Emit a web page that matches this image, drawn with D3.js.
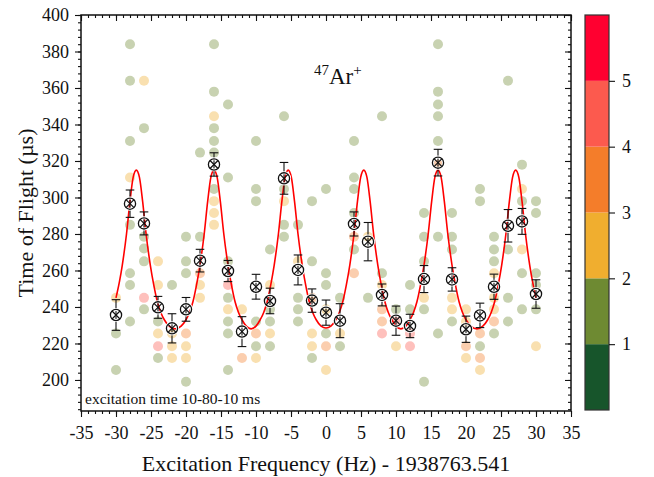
<!DOCTYPE html>
<html><head><meta charset="utf-8">
<script src="https://cdn.jsdelivr.net/npm/d3@7"></script>
<style>
body{margin:0;background:#fff}
svg{display:block}
text{font-family:"Liberation Serif","Times New Roman",serif;fill:#111}
</style>
</head><body>
<svg id="chart" width="654" height="477"></svg>
<script>
// ---------- data ----------
const xTicks = [-35,-30,-25,-20,-15,-10,-5,0,5,10,15,20,25,30,35];
const yTicks = [200,220,240,260,280,300,320,340,360,380,400];
const colorTicks = [1,2,3,4,5];
const colorBands = ["#17552b","#6e8a32","#f0ae2f","#f47d2a","#fc5a4e","#ff0030"];

// scatter: [frequency offset (Hz), time of flight (us), counts]
const scatterPoints = [
 [-30,245,2],[-30,225.5,1],[-30,205.5,1],
 [-28,384,1],[-28,364,1],[-28,331,1],[-28,311,2],[-28,285,1],[-28,258.5,1],[-28,252,1],[-28,232,1],
 [-26,364,2],[-26,338,1],[-26,278.5,1],[-26,272,1],[-26,265,1],[-26,245,4],[-26,238.7,1],
 [-24,265,2],[-24,252,2],[-24,232,1],[-24,225.5,2],[-24,218.5,4],[-24,212,1],
 [-22,252,1],[-22,225.5,2],[-22,218.5,2],[-22,212,2],
 [-20,278.5,1],[-20,265,1],[-20,258.5,1],[-20,225.5,3],[-20,218.5,2],[-20,212,2],[-20,199,1],
 [-18,324.6,1],[-18,278.5,1],[-18,258.5,3],[-18,252,2],[-18,245,2],
 [-16,384,1],[-16,358,1],[-16,344.5,2],[-16,338,1],[-16,331,1],[-16,324.6,1],[-16,304.7,1],[-16,298,2],[-16,291.5,2],[-16,285,2],
 [-14,351,1],[-14,311,1],[-14,265,1],[-14,252,4],[-14,245,1],[-14,238.7,2],[-14,232,1],[-14,225.5,1],[-14,205.5,1],
 [-12,238.7,2],[-12,212,3],
 [-10,331,1],[-10,304.7,1],[-10,298,1],[-10,232,1],[-10,225.5,3],[-10,218.5,1],[-10,212,2],
 [-8,271.5,1],[-8,252,2],[-8,238.7,1],[-8,232,1],[-8,225.5,2],[-8,218.5,1],
 [-6,344.5,1],[-6,304.7,1],[-6,298,2],[-6,285,1],[-6,278.5,1],
 [-4,285,1],[-4,265,2],[-4,245,1],[-4,238.7,1],[-4,232,1],
 [-2,298,1],[-2,265,1],[-2,245,3],[-2,225.5,2],[-2,218.5,2],[-2,212,1],
 [0,304.7,1],[0,258.5,1],[0,252,1],[0,238.7,2],[0,225.5,1],[0,218.5,3],[0,205.5,2],
 [2,245,1],[2,225.5,2],[2,218.5,1],
 [4,331,1],[4,311,1],[4,304.7,1],[4,291.5,1],[4,278.5,3],[4,271.5,1],[4,258.5,3],
 [6,278.5,2],[6,245,1],
 [8,344.5,1],[8,258.5,1],[8,252,2],[8,238.7,3],[8,232,3],[8,225.5,4],
 [10,238.7,1],[10,232,4],[10,218.5,2],
 [12,252,1],[12,238.7,1],[12,225.5,4],[12,218.5,4],
 [14,291.5,1],[14,278.5,1],[14,265,1],[14,245,2],[14,238.7,1],[14,199,1],
 [16,384,1],[16,358,1],[16,351,1],[16,344.5,1],[16,331,1],[16,318,3],[16,278.5,1],[16,225.5,1],
 [18,291.5,1],[18,278.5,1],[18,271.5,1],[18,245,2],[18,238.7,2],[18,232,1],
 [20,238.7,2],[20,232,2],[20,218.5,3],[20,212,2],
 [22,304.7,1],[22,298,1],[22,225.5,3],[22,218.5,1],[22,212,3],[22,205.5,2],
 [24,278.5,1],[24,271.5,1],[24,265,1],[24,258.5,2],[24,245,2],[24,238.7,2],[24,232,3],[24,225.5,1],
 [26,364,1],[26,271.5,1],[26,245,1],[26,232,1],
 [28,318,1],[28,304.7,2],[28,298,1],[28,271.5,2],[28,258.5,1],[28,238.7,1],
 [30,298,1],[30,291.5,1],[30,258.5,1],[30,252,1],[30,238.7,1],[30,218.5,2]
];

// mean time of flight per frequency with uncertainty
const meanFreq = [-30,-28,-26,-24,-22,-20,-18,-16,-14,-12,-10,-8,-6,-4,-2,0,2,4,6,8,10,12,14,16,18,20,22,24,26,28,30];
const meanTof  = [235.6,296.6,285.8,239.8,228.3,238.7,265.4,318.1,259.7,226.5,251.1,243.3,310.5,260.3,243.5,236.9,232.5,285.5,275.8,246.6,232.5,229.6,255.3,319.1,255.1,227.8,235.4,251.1,284.5,286.9,247.1];
const meanErr  = [8.4,7.5,6.3,6,8,6.5,6.2,6.4,5.8,8.2,6.8,7,8.7,8.2,6.4,6.9,9.3,6.6,10.5,6,8,6.4,7.4,7.3,6.4,7.2,6.7,6.9,8.9,7.1,7.8];

// fitted resonance curve
const fitFreq = [-30,-29.5,-29.1,-28.5,-28,-27.55,-27.1,-26.65,-26.2,-25.7,-25.1,-24.6,-24.1,-23.6,-23.1,-22.4,-21.55,-20.7,-20,-19.5,-19,-18.5,-18,-17.4,-16.9,-16.45,-16,-15.55,-15.1,-14.6,-14,-13.5,-13,-12.5,-12,-11.4,-10.7,-10,-9.4,-8.9,-8.4,-7.9,-7.4,-6.8,-6.3,-5.85,-5.4,-4.95,-4.5,-4,-3.4,-2.9,-2.4,-1.9,-1.4,-0.7,0,
 0.7,1.4,1.9,2.4,2.9,3.4,4,4.5,4.95,5.4,5.85,6.3,6.8,7.4,7.9,8.4,8.9,9.4,10,10.7,11.4,12,12.5,13,13.5,14,14.6,15.1,15.55,16,16.45,16.9,17.4,18,18.5,19,19.5,20,20.7,21.55,22.4,23.1,23.6,24.1,24.6,25.1,25.7,26.2,26.65,27.1,27.55,28,28.5,29.1,29.5,30];
const fitTof = [245,254,263,280,298,311,315,311,298,280,263,252,243,237,233,229.5,228,229.5,233,237,243,252,263,280,298,311,315,311,298,280,263,252,243,237,233,229.5,228,229.5,233,237,243,252,263,280,298,311,315,311,298,280,263,252,243,237,233,229.5,228.5,
 229.5,233,237,243,252,263,280,298,311,315,311,298,280,263,252,243,237,233,229.5,228,229.5,233,237,243,252,263,280,298,311,315,311,298,280,263,252,243,237,233,229.5,228,229.5,233,237,243,252,263,280,298,311,315,311,298,280,263,254,245];

// ---------- layout ----------
const svg = d3.select("#chart");
const L = 81, R = 571, T = 15, B = 411;
const x = d3.scaleLinear().domain([-35,35]).range([L,R]);
const y = d3.scaleLinear().domain([183,400]).range([B,T]);
const cbar = d3.scaleLinear().domain([0,6]).range([410,15]);
const xMinor = d3.range(-35,35.01,1);
const yMinor = d3.range(184,400.01,4);
const plain = d => String(d);

// scatter points
const g = svg.append("g");
g.selectAll("circle.pt").data(scatterPoints).enter().append("circle")
  .attr("class","pt")
  .attr("cx",d=>x(d[0])).attr("cy",d=>y(d[1])).attr("r",5)
  .attr("fill",d=>colorBands[d[2]]).attr("fill-opacity",0.38);

// fit curve
const fitData = fitFreq.map((f,i)=>[f,fitTof[i]]);
g.append("path").datum(fitData)
  .attr("d", d3.line().x(d=>x(d[0])).y(d=>y(d[1])).curve(d3.curveMonotoneX))
  .attr("fill","none").attr("stroke","#ff0000").attr("stroke-width",1.6);

// error bars and markers
const means = meanFreq.map((f,i)=>({f, t:meanTof[i], e:meanErr[i]}));
const eb = g.selectAll("g.eb").data(means).enter().append("g").attr("class","eb")
  .attr("stroke","#111").attr("stroke-width",1.1).attr("fill","none");
eb.append("line").attr("x1",d=>x(d.f)).attr("x2",d=>x(d.f)).attr("y1",d=>y(d.t+d.e)).attr("y2",d=>y(d.t-d.e));
eb.append("line").attr("x1",d=>x(d.f)-4.3).attr("x2",d=>x(d.f)+4.3).attr("y1",d=>y(d.t+d.e)).attr("y2",d=>y(d.t+d.e));
eb.append("line").attr("x1",d=>x(d.f)-4.3).attr("x2",d=>x(d.f)+4.3).attr("y1",d=>y(d.t-d.e)).attr("y2",d=>y(d.t-d.e));
eb.append("circle").attr("cx",d=>x(d.f)).attr("cy",d=>y(d.t)).attr("r",5.6)
  .attr("stroke","#fff").attr("stroke-width",3).attr("fill","none");
eb.append("circle").attr("cx",d=>x(d.f)).attr("cy",d=>y(d.t)).attr("r",5.6)
  .attr("stroke","#111").attr("stroke-width",1.3);
eb.append("path").attr("d",d=>{const cx=x(d.f),cy=y(d.t),k=4;return `M${cx-k},${cy-k}L${cx+k},${cy+k}M${cx-k},${cy+k}L${cx+k},${cy-k}`;})
  .attr("stroke","#111").attr("stroke-width",1.2);

// ---------- axes ----------
function styleAxis(sel){ sel.select(".domain").remove(); sel.selectAll("line").attr("stroke","#111").attr("stroke-width",1.1); }

svg.append("g").attr("transform",`translate(0,${B})`).call(d3.axisBottom(x).tickValues(xMinor).tickSize(3).tickFormat("")).call(styleAxis);
const xa = svg.append("g").attr("transform",`translate(0,${B})`).call(d3.axisBottom(x).tickValues(xTicks).tickSize(6).tickPadding(9).tickFormat(plain)).call(styleAxis);
xa.selectAll("text").attr("font-size",18).style("font-family","Liberation Serif");

svg.append("g").attr("transform",`translate(0,${T})`).call(d3.axisTop(x).tickValues(xMinor).tickSize(-3).tickFormat("")).call(styleAxis);
svg.append("g").attr("transform",`translate(0,${T})`).call(d3.axisTop(x).tickValues(xTicks).tickSize(-6).tickFormat("")).call(styleAxis);

svg.append("g").attr("transform",`translate(${L},0)`).call(d3.axisLeft(y).tickValues(yMinor).tickSize(3).tickFormat("")).call(styleAxis);
const ya = svg.append("g").attr("transform",`translate(${L},0)`).call(d3.axisLeft(y).tickValues(yTicks).tickSize(6).tickPadding(6).tickFormat(plain)).call(styleAxis);
ya.selectAll("text").attr("font-size",18).style("font-family","Liberation Serif");

svg.append("g").attr("transform",`translate(${R},0)`).call(d3.axisRight(y).tickValues(yMinor).tickSize(-3).tickFormat("")).call(styleAxis);
svg.append("g").attr("transform",`translate(${R},0)`).call(d3.axisRight(y).tickValues(yTicks).tickSize(-6).tickFormat("")).call(styleAxis);

svg.append("rect").attr("x",L).attr("y",T).attr("width",R-L).attr("height",B-T)
  .attr("fill","none").attr("stroke","#111").attr("stroke-width",1.5);

// titles
svg.append("text").attr("x",(L+R)/2).attr("y",471).attr("text-anchor","middle").attr("font-size",22)
  .text("Excitation Frequency (Hz) - 1938763.541");
svg.append("text").attr("transform",`translate(33,${(T+B)/2}) rotate(-90)`).attr("text-anchor","middle").attr("font-size",22)
  .text("Time of Flight (µs)");
svg.append("text").attr("x",85).attr("y",404).attr("font-size",15.5).text("excitation time 10-80-10 ms");
const lab = svg.append("text").attr("x",314).attr("y",84).attr("font-size",23);
lab.append("tspan").attr("font-size",15).attr("dy",-9).text("47");
lab.append("tspan").attr("dy",9).text("Ar");
lab.append("tspan").attr("font-size",15).attr("dy",-9).text("+");

// ---------- colour bar ----------
const cb = svg.append("g");
cb.selectAll("rect.band").data(colorBands).enter().append("rect").attr("class","band")
  .attr("x",585).attr("width",24)
  .attr("y",(d,i)=>cbar(i+1)).attr("height",(d,i)=>cbar(i)-cbar(i+1))
  .attr("fill",d=>d);
cb.append("rect").attr("x",585).attr("y",cbar(6)).attr("width",24).attr("height",cbar(0)-cbar(6))
  .attr("fill","none").attr("stroke","#333").attr("stroke-width",1.2);
const ca = svg.append("g").attr("transform","translate(609,0)")
  .call(d3.axisRight(cbar).tickValues(colorTicks).tickSize(6).tickPadding(7).tickFormat(plain)).call(styleAxis);
ca.selectAll("text").attr("font-size",18).style("font-family","Liberation Serif");
</script>
</body></html>
